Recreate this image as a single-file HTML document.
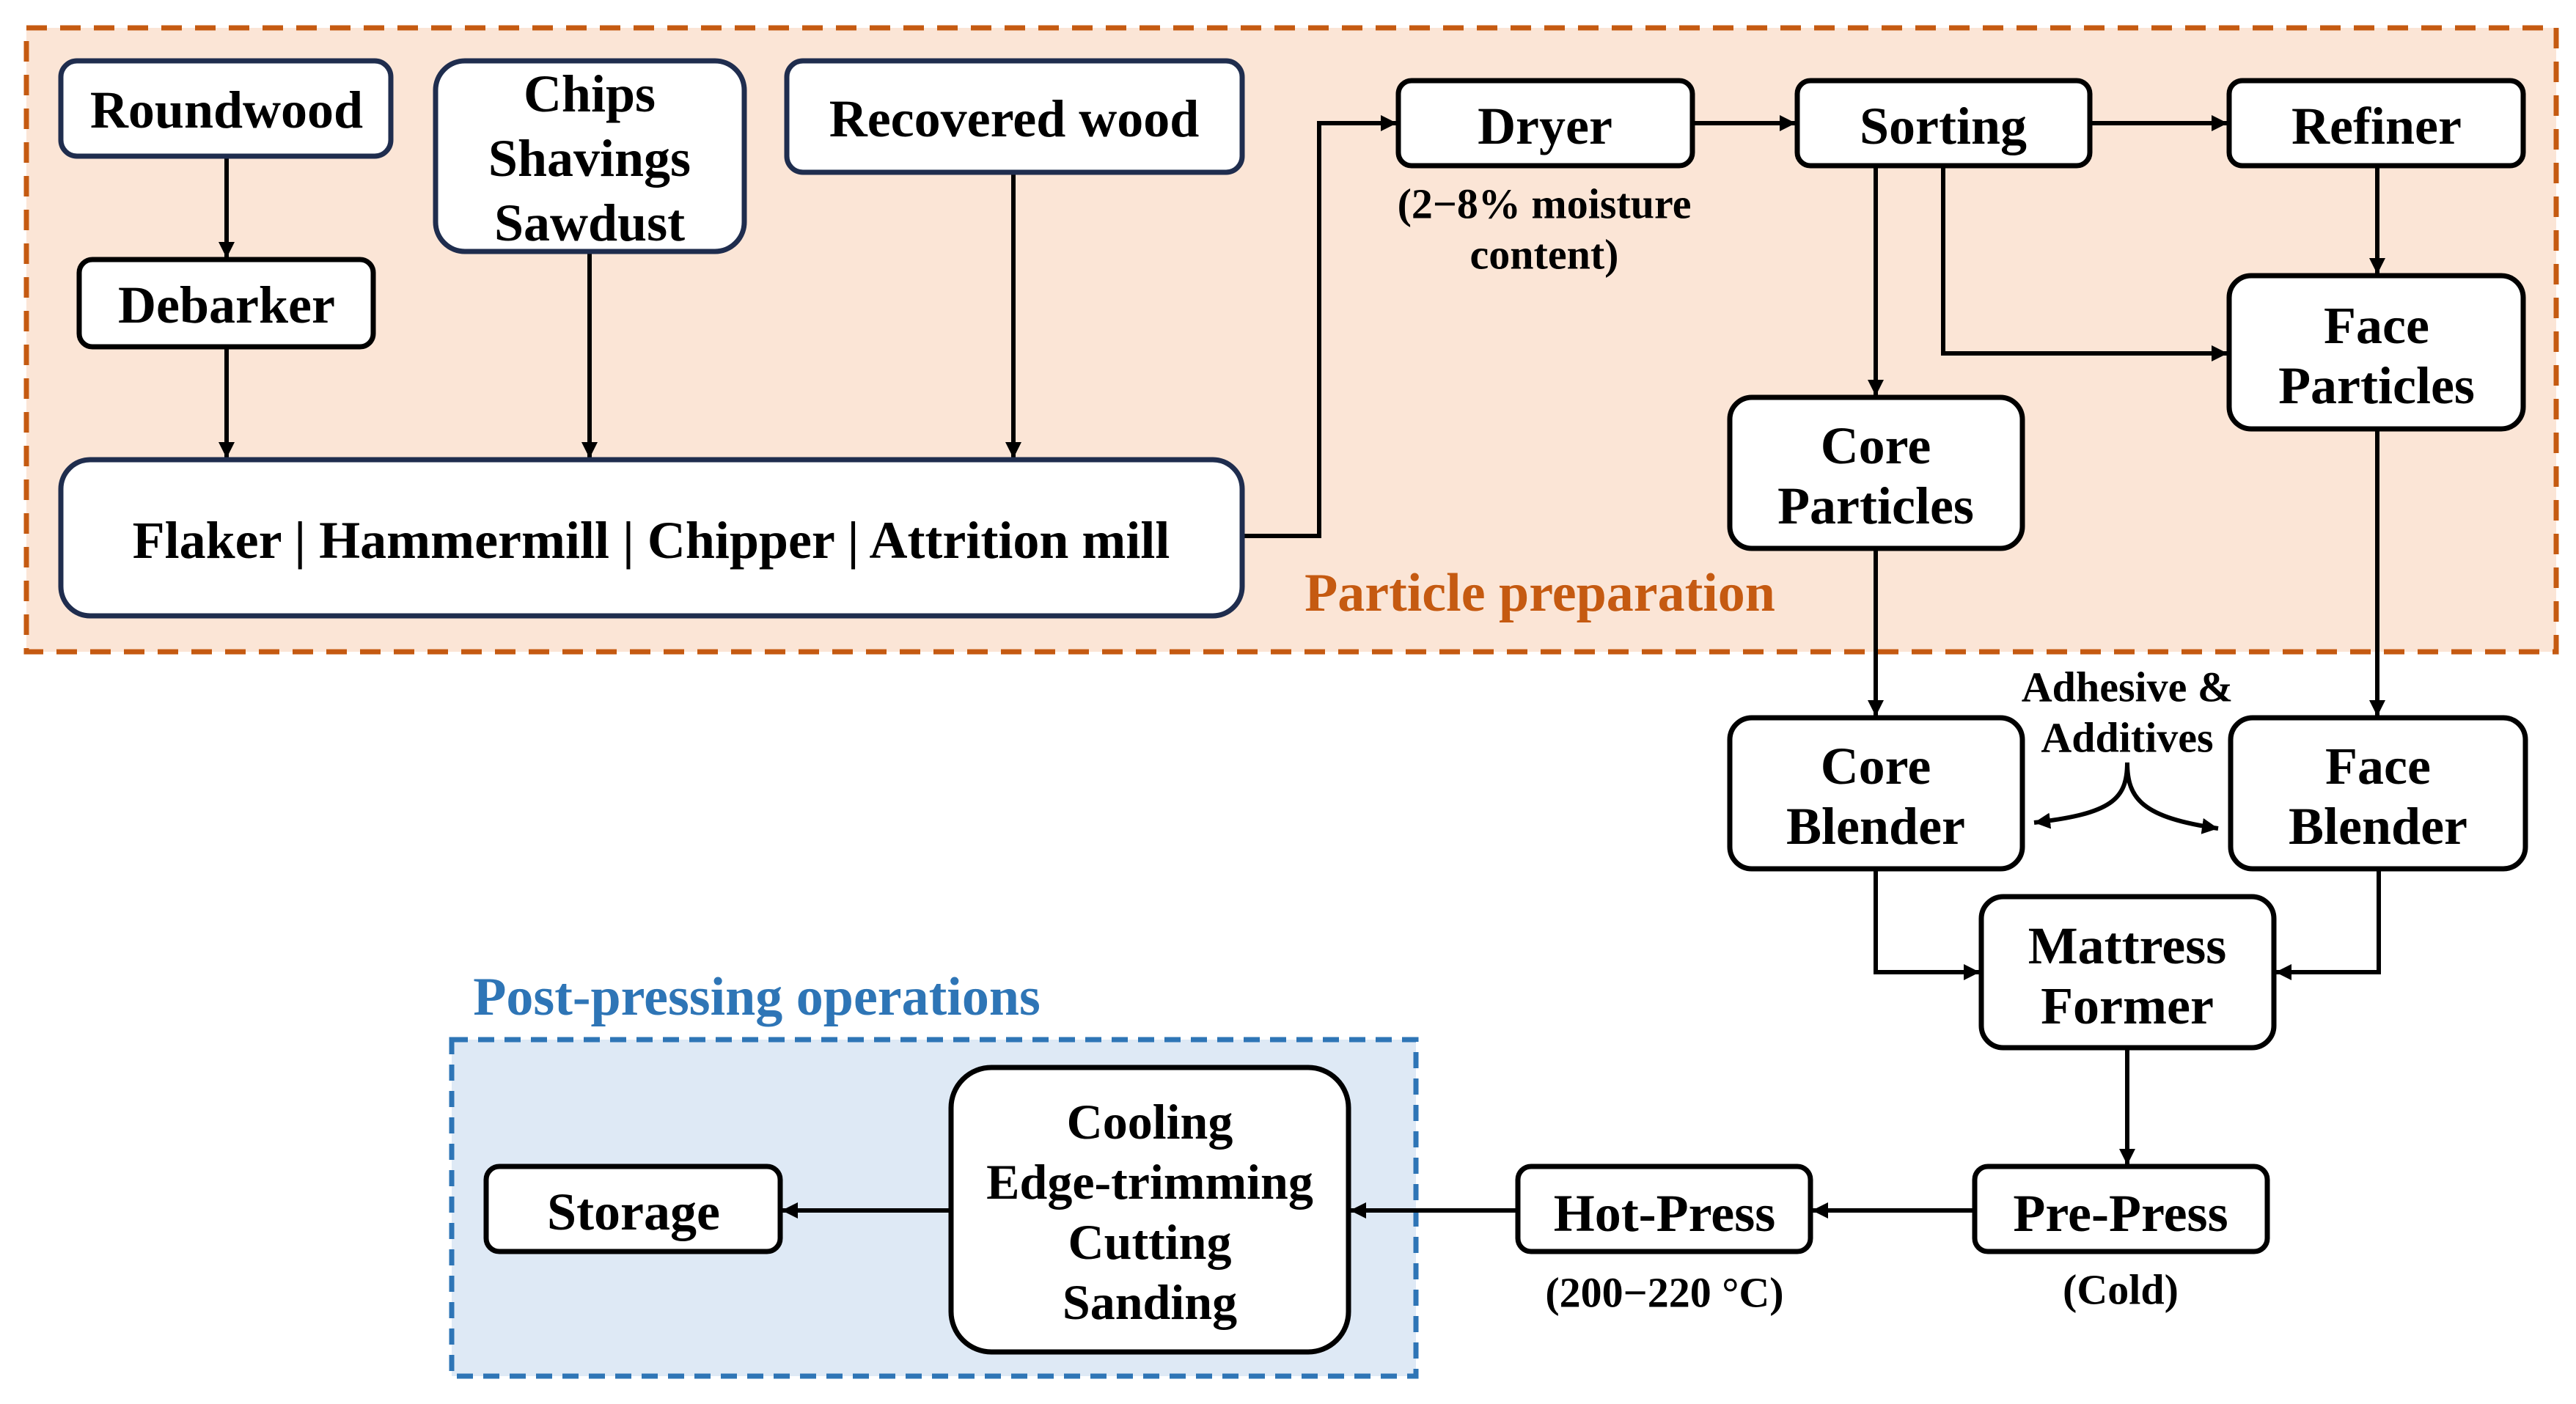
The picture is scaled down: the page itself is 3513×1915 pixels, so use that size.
<!DOCTYPE html>
<html><head><meta charset="utf-8"><style>
html,body{margin:0;padding:0;background:#fff}
svg{display:block}
text{font-family:"Liberation Serif",serif;font-weight:bold;text-anchor:middle;dominant-baseline:central}
</style></head><body>
<svg width="3513" height="1915" viewBox="0 0 3513 1915" xmlns="http://www.w3.org/2000/svg">
<defs>
<marker id="ah" viewBox="0 0 10 10" refX="10" refY="5" markerWidth="22" markerHeight="22" markerUnits="userSpaceOnUse" orient="auto"><path d="M0,0 L10,5 L0,10 z" fill="#000"/></marker>
</defs>
<rect x="36" y="38" width="3450" height="851" fill="#fbe5d6" stroke="#c55a11" stroke-width="7" stroke-dasharray="28,18"/>
<rect x="616" y="1418" width="1315" height="459" fill="#dee9f5" stroke="#2e75b6" stroke-width="7" stroke-dasharray="22,14"/>
<text x="2100" y="809" font-size="74" fill="#c55a11">Particle preparation</text>
<text x="1032" y="1360" font-size="74" fill="#2e75b6">Post-pressing operations</text>

<g fill="none" stroke="#000" stroke-width="6" marker-end="url(#ah)">
<path d="M309 213 V352"/>
<path d="M309 473 V625"/>
<path d="M804 343 V625"/>
<path d="M1382 235 V625"/>
<path d="M1694 731 H1799 V168 H1905"/>
<path d="M2308 168 H2449"/>
<path d="M2850 168 H3038"/>
<path d="M2558 226 V540"/>
<path d="M2650 226 V482 H3038"/>
<path d="M3242 226 V374"/>
<path d="M2558 748 V977"/>
<path d="M3242 585 V977"/>
<path d="M2558 1185 V1326 H2700"/>
<path d="M3244 1185 V1326 H3103"/>
<path d="M2901 1429 V1589"/>
<path d="M2693 1651 H2471"/>
<path d="M2070 1651 H1841"/>
<path d="M1297 1651 H1066"/>
<path d="M2901 1040 C2901 1090 2880 1110 2774 1122"/>
<path d="M2901 1040 C2901 1090 2922 1115 3025 1130"/>
</g>

<g fill="#fff" stroke="#1f2d4e" stroke-width="7">
<rect x="83" y="83" width="450" height="130" rx="22"/>
<rect x="594" y="83" width="421" height="260" rx="40"/>
<rect x="1073" y="83" width="621" height="152" rx="22"/>
<rect x="83" y="627" width="1611" height="213" rx="40"/>
</g>
<g fill="#fff" stroke="#000" stroke-width="7">
<rect x="108" y="354" width="401" height="119" rx="18"/>
<rect x="1907" y="110" width="401" height="116" rx="18"/>
<rect x="2451" y="110" width="399" height="116" rx="18"/>
<rect x="3040" y="110" width="401" height="116" rx="18"/>
<rect x="3040" y="376" width="401" height="209" rx="30"/>
<rect x="2359" y="542" width="399" height="206" rx="30"/>
<rect x="2359" y="979" width="399" height="206" rx="30"/>
<rect x="3042" y="979" width="402" height="206" rx="30"/>
<rect x="2702" y="1223" width="399" height="206" rx="30"/>
<rect x="2693" y="1591" width="399" height="116" rx="18"/>
<rect x="2070" y="1591" width="399" height="116" rx="18"/>
<rect x="663" y="1591" width="401" height="116" rx="18"/>
<rect x="1297" y="1456" width="542" height="388" rx="55"/>
</g>

<g font-size="72" fill="#000">
<text x="309" y="150">Roundwood</text>
<text x="804" y="128">Chips</text>
<text x="804" y="216">Shavings</text>
<text x="804" y="304">Sawdust</text>
<text x="1383" y="162">Recovered wood</text>
<text x="309" y="416">Debarker</text>
<text x="888" y="737">Flaker | Hammermill | Chipper | Attrition mill</text>
<text x="2107" y="172">Dryer</text>
<text x="2650" y="172">Sorting</text>
<text x="3241" y="172">Refiner</text>
<text x="3241" y="444">Face</text>
<text x="3241" y="526">Particles</text>
<text x="2558" y="608">Core</text>
<text x="2558" y="690">Particles</text>
<text x="2558" y="1045">Core</text>
<text x="2558" y="1127">Blender</text>
<text x="3243" y="1045">Face</text>
<text x="3243" y="1127">Blender</text>
<text x="2901" y="1290">Mattress</text>
<text x="2901" y="1372">Former</text>
<text x="2892" y="1655">Pre-Press</text>
<text x="2270" y="1655">Hot-Press</text>
<text x="864" y="1653">Storage</text>
</g>
<g font-size="68" fill="#000">
<text x="1568" y="1530">Cooling</text>
<text x="1568" y="1612">Edge-trimming</text>
<text x="1568" y="1694">Cutting</text>
<text x="1568" y="1776">Sanding</text>
</g>
<g font-size="58" fill="#000">
<text x="2106" y="278">(2−8% moisture</text>
<text x="2106" y="347">content)</text>
<text x="2901" y="937">Adhesive &amp;</text>
<text x="2901" y="1006">Additives</text>
<text x="2270" y="1763">(200−220 °C)</text>
<text x="2892" y="1759">(Cold)</text>
</g>
</svg>
</body></html>
